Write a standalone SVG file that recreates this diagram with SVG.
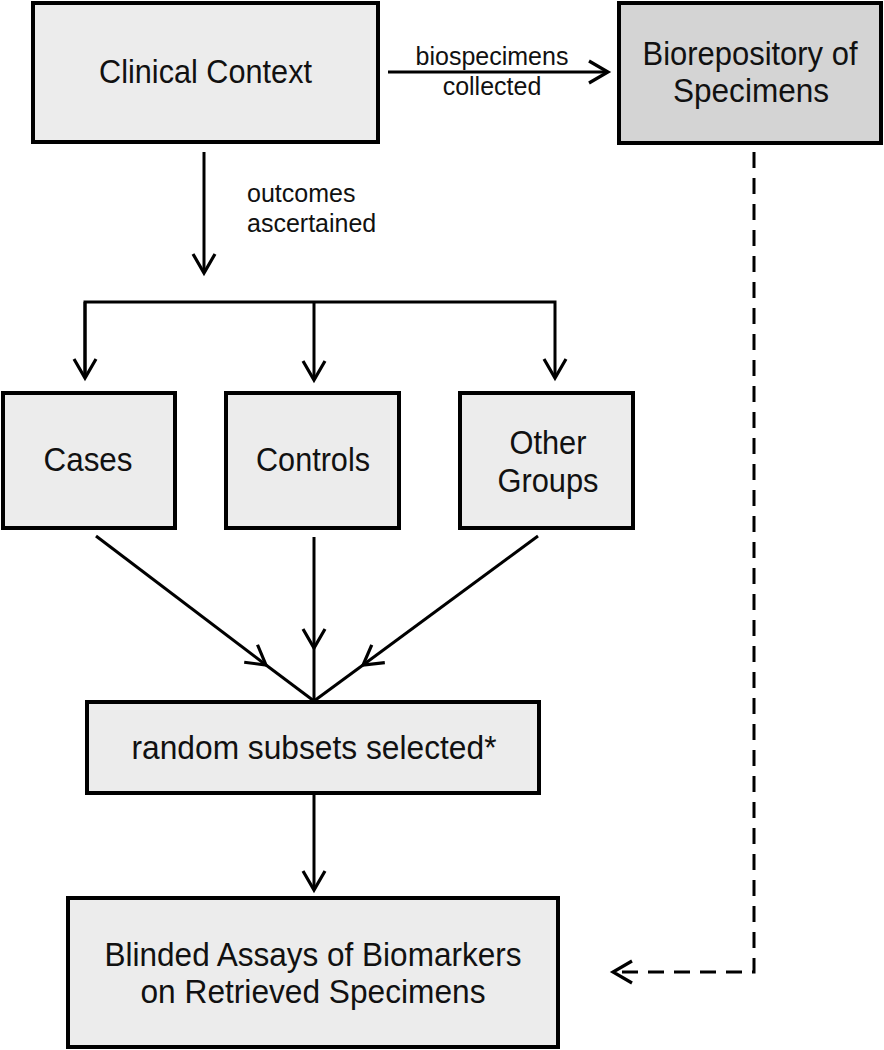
<svg xmlns="http://www.w3.org/2000/svg" width="884" height="1050" viewBox="0 0 884 1050">
<style>
.box{fill:#ececec;stroke:#000;stroke-width:4}
.dark{fill:#d4d4d4}
.t{font-family:"Liberation Sans",Arial,sans-serif;font-size:33px;fill:#111;text-anchor:middle}
.s{font-family:"Liberation Sans",Arial,sans-serif;font-size:25px;fill:#111}
.c{fill:none;stroke:#000;stroke-width:3}
.d{stroke-dasharray:16 10}
</style>
<defs>
<marker id="ah" markerUnits="userSpaceOnUse" markerWidth="26" markerHeight="26" viewBox="0 0 26 26" refX="22" refY="13" orient="auto">
<path d="M3,2 L22,13 L3,24" fill="none" stroke="#000" stroke-width="3.2"/>
</marker>
</defs>
<rect width="884" height="1050" fill="#fff"/>
<g id="connectors">
<line class="c" x1="388" y1="72" x2="608" y2="72" marker-end="url(#ah)"/>
<line class="c" x1="204" y1="152" x2="204" y2="273" marker-end="url(#ah)"/>
<path class="c" d="M85,378 L85,302 L555,302 L555,378" marker-end="url(#ah)"/>
<path class="c" d="M85,302 L85,378" marker-end="url(#ah)"/>
<line class="c" x1="314" y1="302" x2="314" y2="380" marker-end="url(#ah)"/>
<line class="c" x1="96" y1="536" x2="266" y2="665" marker-end="url(#ah)"/>
<line class="c" x1="266" y1="665" x2="314" y2="701"/>
<line class="c" x1="314" y1="537" x2="314" y2="648" marker-end="url(#ah)"/>
<line class="c" x1="314" y1="648" x2="314" y2="701"/>
<line class="c" x1="538" y1="536" x2="363" y2="665" marker-end="url(#ah)"/>
<line class="c" x1="363" y1="665" x2="314" y2="701"/>
<line class="c" x1="314" y1="795" x2="314" y2="890" marker-end="url(#ah)"/>
<path class="c d" d="M754,152 L754,972 L613,972" marker-end="url(#ah)"/>
<text class="s" x="492" y="65" text-anchor="middle">biospecimens</text>
<text class="s" x="492" y="95" text-anchor="middle">collected</text>
<text class="s" x="247" y="202">outcomes</text>
<text class="s" x="247" y="232">ascertained</text>
</g>
<g id="clinical-context">
<rect class="box" x="33" y="3" width="345" height="139"/>
<text class="t" x="205.5" y="83" textLength="213" lengthAdjust="spacingAndGlyphs">Clinical Context</text>
</g>
<g id="biorepository">
<rect class="box dark" x="619" y="3" width="262" height="140"/>
<text class="t" x="750" y="65" textLength="215" lengthAdjust="spacingAndGlyphs">Biorepository of</text>
<text class="t" x="751" y="102" textLength="156" lengthAdjust="spacingAndGlyphs">Specimens</text>
</g>
<g id="cases">
<rect class="box" x="3" y="393" width="172" height="135"/>
<text class="t" x="88" y="471" textLength="89" lengthAdjust="spacingAndGlyphs">Cases</text>
</g>
<g id="controls">
<rect class="box" x="226" y="393" width="173" height="135"/>
<text class="t" x="313" y="471" textLength="114" lengthAdjust="spacingAndGlyphs">Controls</text>
</g>
<g id="other-groups">
<rect class="box" x="460" y="393" width="173" height="135"/>
<text class="t" x="548" y="454" textLength="77" lengthAdjust="spacingAndGlyphs">Other</text>
<text class="t" x="548" y="492" textLength="101" lengthAdjust="spacingAndGlyphs">Groups</text>
</g>
<g id="random-subsets">
<rect class="box" x="87" y="702" width="452" height="91"/>
<text class="t" x="314" y="759" textLength="365" lengthAdjust="spacingAndGlyphs">random subsets selected*</text>
</g>
<g id="blinded-assays">
<rect class="box" x="68" y="898" width="490" height="149"/>
<text class="t" x="313" y="966" textLength="417" lengthAdjust="spacingAndGlyphs">Blinded Assays of Biomarkers</text>
<text class="t" x="313" y="1003" textLength="345" lengthAdjust="spacingAndGlyphs">on Retrieved Specimens</text>
</g>
</svg>
